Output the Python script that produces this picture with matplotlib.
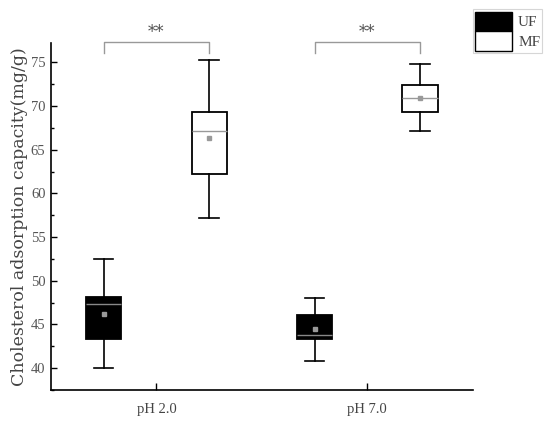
import matplotlib
matplotlib.use("Agg")
import matplotlib.pyplot as plt
from matplotlib.patches import Patch
from matplotlib.ticker import MultipleLocator

# ---- data ----
categories = ["pH 2.0", "pH 7.0"]
groups = ["UF", "MF"]
uf_whislo = [40.0, 40.8]
uf_q1 = [43.3, 43.3]
uf_med = [47.3, 43.8]
uf_mean = [46.2, 44.5]
uf_q3 = [48.1, 46.1]
uf_whishi = [52.5, 48.0]

mf_whislo = [57.2, 67.1]
mf_q1 = [62.2, 69.3]
mf_med = [67.2, 70.9]
mf_mean = [66.3, 70.9]
mf_q3 = [69.3, 72.4]
mf_whishi = [75.3, 74.8]

sig_labels = ["**", "**"]

serif = ["Liberation Serif", "DejaVu Serif"]
plt.rcParams["font.family"] = serif

fig = plt.figure(figsize=(5.5, 4.22), dpi=100)
ax = fig.add_axes([0.0927, 0.0758, 0.767, 0.822])

def stats(lo, q1, med, mean, q3, hi):
    return [dict(whislo=lo[i], q1=q1[i], med=med[i], mean=mean[i], q3=q3[i],
                 whishi=hi[i], fliers=[]) for i in range(len(lo))]

pos = list(range(1, len(categories) + 1))
off = 0.25
w = 0.167

def draw(st, positions, face, medc):
    ax.bxp(st, positions=positions, widths=w, patch_artist=True, showmeans=True,
           showfliers=False,
           boxprops=dict(facecolor=face, edgecolor="black", linewidth=1.3),
           medianprops=dict(color=medc, linewidth=1.0),
           whiskerprops=dict(color="black", linewidth=1.2),
           capprops=dict(color="black", linewidth=1.2),
           capwidths=w * 0.55,
           meanprops=dict(marker="s", markersize=3, markerfacecolor="#999999",
                          markeredgecolor="#999999"))

draw(stats(uf_whislo, uf_q1, uf_med, uf_mean, uf_q3, uf_whishi),
     [p - off for p in pos], "black", "#888888")
draw(stats(mf_whislo, mf_q1, mf_med, mf_mean, mf_q3, mf_whishi),
     [p + off for p in pos], "white", "#999999")

ax.set_xlim(0.5, 2.5)
ax.set_ylim(37.5, 77.2)
ax.set_xticks(pos)
ax.set_xticklabels(categories, fontsize=10.5, color="#444444")
ax.yaxis.set_major_locator(MultipleLocator(5))
ax.yaxis.set_minor_locator(MultipleLocator(2.5))
ax.tick_params(axis="y", which="major", direction="in", length=4, width=1,
               labelsize=10.5, labelcolor="#555555", pad=4)
ax.tick_params(axis="y", which="minor", direction="in", length=2.5, width=1)
ax.tick_params(axis="x", direction="in", length=5, width=1, pad=9)
for s in ["top", "right"]:
    ax.spines[s].set_visible(False)
for s in ["left", "bottom"]:
    ax.spines[s].set_linewidth(1.2)

ax.set_ylabel("Cholesterol adsorption capacity(mg/g)", fontsize=12.5,
              color="#444444", family=["DejaVu Serif"], labelpad=2)

# significance brackets
for i, p in enumerate(pos):
    x0, x1 = p - off, p + off
    ytop = 77.35
    ax.plot([x0, x0, x1, x1], [76.1, ytop, ytop, 76.1], color="#999999",
            lw=1.0, clip_on=False)
    ax.text(p, ytop + 0.05, sig_labels[i], ha="center", va="bottom",
            fontsize=12, color="#555555", family=["DejaVu Serif"])

handles = [Patch(facecolor="black", edgecolor="black", label=groups[0]),
           Patch(facecolor="white", edgecolor="black", label=groups[1])]
leg = fig.legend(handles=handles, loc="upper left", bbox_to_anchor=(0.86, 0.978),
                 frameon=True, fontsize=11, handlelength=2.4, handleheight=1.55,
                 labelspacing=0.05, borderpad=0.15, handletextpad=0.4,
                 borderaxespad=0.0, fancybox=False)
leg.get_frame().set_edgecolor("#cccccc")
leg.get_frame().set_linewidth(0.8)
for t in leg.get_texts():
    t.set_color("#444444")

fig.savefig("out.png", dpi=100)
